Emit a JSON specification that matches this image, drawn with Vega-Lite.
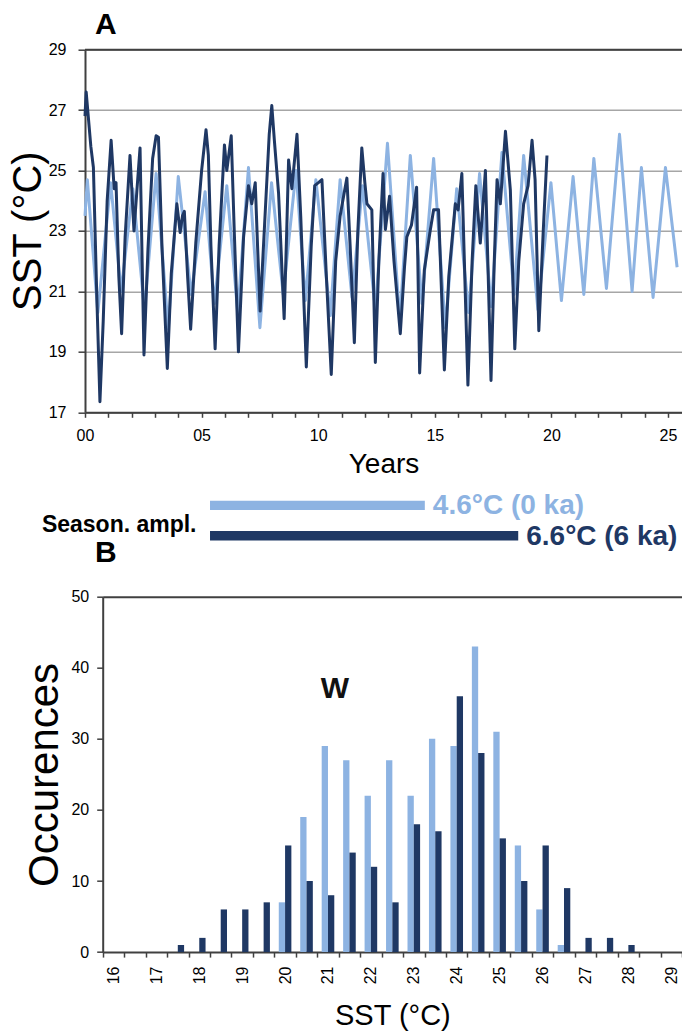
{
  "$schema": "https://vega.github.io/schema/vega-lite/v6.json",
  "padding": {"left": 8, "top": 9.7, "right": 0, "bottom": 0},
  "background": "white",
  "bounds": "flush",
  "spacing": 0,
  "config": {
    "view": {"stroke": null},
    "font": "Liberation Sans",
    "axis": {"labelFont": "Liberation Sans", "titleFont": "Liberation Sans", "labelColor": "#000000", "titleColor": "#000000", "titleFontWeight": "normal", "labelOverlap": false},
    "title": {"font": "Liberation Sans", "color": "#000000"},
    "text": {"font": "Liberation Sans"}
  },
  "datasets": {
    "ts": [
      {"series": "0 ka", "year": 0.0, "sst": 23.5}, {"series": "0 ka", "year": 0.1, "sst": 24.7}, {"series": "0 ka", "year": 0.55, "sst": 20.3}, {"series": "0 ka", "year": 1.1, "sst": 24.6}, {"series": "0 ka", "year": 1.55, "sst": 21.0}, {"series": "0 ka", "year": 2.05, "sst": 24.4}, {"series": "0 ka", "year": 2.55, "sst": 20.4}, {"series": "0 ka", "year": 3.05, "sst": 24.9}, {"series": "0 ka", "year": 3.57, "sst": 19.75}, {"series": "0 ka", "year": 4.0, "sst": 24.8}, {"series": "0 ka", "year": 4.55, "sst": 20.9}, {"series": "0 ka", "year": 5.15, "sst": 24.3}, {"series": "0 ka", "year": 5.55, "sst": 20.6}, {"series": "0 ka", "year": 6.08, "sst": 24.5}, {"series": "0 ka", "year": 6.55, "sst": 20.3}, {"series": "0 ka", "year": 7.01, "sst": 25.1}, {"series": "0 ka", "year": 7.5, "sst": 19.8}, {"series": "0 ka", "year": 8.0, "sst": 24.6}, {"series": "0 ka", "year": 8.5, "sst": 20.9}, {"series": "0 ka", "year": 9.05, "sst": 25.0}, {"series": "0 ka", "year": 9.45, "sst": 20.7}, {"series": "0 ka", "year": 9.9, "sst": 24.7}, {"series": "0 ka", "year": 10.52, "sst": 20.2}, {"series": "0 ka", "year": 10.94, "sst": 24.7}, {"series": "0 ka", "year": 11.45, "sst": 20.8}, {"series": "0 ka", "year": 11.9, "sst": 24.5}, {"series": "0 ka", "year": 12.45, "sst": 20.4}, {"series": "0 ka", "year": 12.97, "sst": 25.9}, {"series": "0 ka", "year": 13.5, "sst": 20.0}, {"series": "0 ka", "year": 13.95, "sst": 25.5}, {"series": "0 ka", "year": 14.45, "sst": 20.6}, {"series": "0 ka", "year": 14.95, "sst": 25.4}, {"series": "0 ka", "year": 15.45, "sst": 19.8}, {"series": "0 ka", "year": 15.94, "sst": 24.4}, {"series": "0 ka", "year": 16.45, "sst": 20.3}, {"series": "0 ka", "year": 16.92, "sst": 24.9}, {"series": "0 ka", "year": 17.42, "sst": 20.5}, {"series": "0 ka", "year": 17.88, "sst": 25.6}, {"series": "0 ka", "year": 18.4, "sst": 20.9}, {"series": "0 ka", "year": 18.81, "sst": 25.5}, {"series": "0 ka", "year": 19.42, "sst": 20.4}, {"series": "0 ka", "year": 19.98, "sst": 24.6}, {"series": "0 ka", "year": 20.43, "sst": 20.7}, {"series": "0 ka", "year": 20.93, "sst": 24.8}, {"series": "0 ka", "year": 21.39, "sst": 20.9}, {"series": "0 ka", "year": 21.82, "sst": 25.4}, {"series": "0 ka", "year": 22.36, "sst": 21.1}, {"series": "0 ka", "year": 22.92, "sst": 26.2}, {"series": "0 ka", "year": 23.46, "sst": 21.0}, {"series": "0 ka", "year": 23.86, "sst": 25.1}, {"series": "0 ka", "year": 24.36, "sst": 20.8}, {"series": "0 ka", "year": 24.89, "sst": 25.1}, {"series": "0 ka", "year": 25.39, "sst": 21.8},
      {"series": "6 ka", "year": 0.0, "sst": 26.8}, {"series": "6 ka", "year": 0.05, "sst": 27.6}, {"series": "6 ka", "year": 0.15, "sst": 26.7}, {"series": "6 ka", "year": 0.25, "sst": 25.8}, {"series": "6 ka", "year": 0.36, "sst": 25.1}, {"series": "6 ka", "year": 0.5, "sst": 21.0}, {"series": "6 ka", "year": 0.64, "sst": 17.35}, {"series": "6 ka", "year": 0.78, "sst": 20.0}, {"series": "6 ka", "year": 0.95, "sst": 24.0}, {"series": "6 ka", "year": 1.12, "sst": 26.0}, {"series": "6 ka", "year": 1.25, "sst": 24.4}, {"series": "6 ka", "year": 1.33, "sst": 24.6}, {"series": "6 ka", "year": 1.45, "sst": 21.5}, {"series": "6 ka", "year": 1.57, "sst": 19.6}, {"series": "6 ka", "year": 1.72, "sst": 22.8}, {"series": "6 ka", "year": 1.93, "sst": 25.5}, {"series": "6 ka", "year": 2.1, "sst": 23.0}, {"series": "6 ka", "year": 2.25, "sst": 24.6}, {"series": "6 ka", "year": 2.36, "sst": 25.75}, {"series": "6 ka", "year": 2.45, "sst": 22.0}, {"series": "6 ka", "year": 2.53, "sst": 18.9}, {"series": "6 ka", "year": 2.7, "sst": 22.4}, {"series": "6 ka", "year": 2.9, "sst": 25.4}, {"series": "6 ka", "year": 3.05, "sst": 26.15}, {"series": "6 ka", "year": 3.15, "sst": 26.1}, {"series": "6 ka", "year": 3.3, "sst": 22.5}, {"series": "6 ka", "year": 3.53, "sst": 18.45}, {"series": "6 ka", "year": 3.7, "sst": 21.6}, {"series": "6 ka", "year": 3.94, "sst": 23.9}, {"series": "6 ka", "year": 4.08, "sst": 22.95}, {"series": "6 ka", "year": 4.18, "sst": 23.5}, {"series": "6 ka", "year": 4.26, "sst": 23.65}, {"series": "6 ka", "year": 4.4, "sst": 21.5}, {"series": "6 ka", "year": 4.53, "sst": 19.75}, {"series": "6 ka", "year": 4.75, "sst": 22.6}, {"series": "6 ka", "year": 5.0, "sst": 25.0}, {"series": "6 ka", "year": 5.19, "sst": 26.35}, {"series": "6 ka", "year": 5.29, "sst": 25.5}, {"series": "6 ka", "year": 5.4, "sst": 22.5}, {"series": "6 ka", "year": 5.58, "sst": 19.1}, {"series": "6 ka", "year": 5.75, "sst": 22.5}, {"series": "6 ka", "year": 5.98, "sst": 25.85}, {"series": "6 ka", "year": 6.08, "sst": 25.0}, {"series": "6 ka", "year": 6.27, "sst": 26.15}, {"series": "6 ka", "year": 6.4, "sst": 23.0}, {"series": "6 ka", "year": 6.58, "sst": 19.0}, {"series": "6 ka", "year": 6.8, "sst": 22.8}, {"series": "6 ka", "year": 7.01, "sst": 24.5}, {"series": "6 ka", "year": 7.15, "sst": 23.9}, {"series": "6 ka", "year": 7.3, "sst": 24.6}, {"series": "6 ka", "year": 7.4, "sst": 22.5}, {"series": "6 ka", "year": 7.51, "sst": 20.35}, {"series": "6 ka", "year": 7.7, "sst": 23.2}, {"series": "6 ka", "year": 7.9, "sst": 26.2}, {"series": "6 ka", "year": 8.01, "sst": 27.15}, {"series": "6 ka", "year": 8.12, "sst": 26.0}, {"series": "6 ka", "year": 8.3, "sst": 24.25}, {"series": "6 ka", "year": 8.54, "sst": 20.1}, {"series": "6 ka", "year": 8.65, "sst": 23.0}, {"series": "6 ka", "year": 8.73, "sst": 25.35}, {"series": "6 ka", "year": 8.87, "sst": 24.4}, {"series": "6 ka", "year": 9.09, "sst": 26.2}, {"series": "6 ka", "year": 9.25, "sst": 23.5}, {"series": "6 ka", "year": 9.49, "sst": 18.5}, {"series": "6 ka", "year": 9.7, "sst": 22.5}, {"series": "6 ka", "year": 9.85, "sst": 24.5}, {"series": "6 ka", "year": 10.01, "sst": 24.6}, {"series": "6 ka", "year": 10.16, "sst": 24.7}, {"series": "6 ka", "year": 10.35, "sst": 21.5}, {"series": "6 ka", "year": 10.56, "sst": 18.25}, {"series": "6 ka", "year": 10.75, "sst": 22.0}, {"series": "6 ka", "year": 10.94, "sst": 23.5}, {"series": "6 ka", "year": 11.1, "sst": 24.2}, {"series": "6 ka", "year": 11.23, "sst": 24.75}, {"series": "6 ka", "year": 11.37, "sst": 22.5}, {"series": "6 ka", "year": 11.55, "sst": 19.3}, {"series": "6 ka", "year": 11.7, "sst": 23.0}, {"series": "6 ka", "year": 11.87, "sst": 25.75}, {"series": "6 ka", "year": 12.0, "sst": 24.6}, {"series": "6 ka", "year": 12.09, "sst": 23.9}, {"series": "6 ka", "year": 12.3, "sst": 23.7}, {"series": "6 ka", "year": 12.45, "sst": 18.65}, {"series": "6 ka", "year": 12.6, "sst": 22.0}, {"series": "6 ka", "year": 12.78, "sst": 24.9}, {"series": "6 ka", "year": 12.88, "sst": 23.05}, {"series": "6 ka", "year": 13.06, "sst": 24.15}, {"series": "6 ka", "year": 13.25, "sst": 22.0}, {"series": "6 ka", "year": 13.52, "sst": 19.6}, {"series": "6 ka", "year": 13.7, "sst": 21.8}, {"series": "6 ka", "year": 13.8, "sst": 22.8}, {"series": "6 ka", "year": 14.0, "sst": 23.2}, {"series": "6 ka", "year": 14.22, "sst": 24.45}, {"series": "6 ka", "year": 14.35, "sst": 18.3}, {"series": "6 ka", "year": 14.55, "sst": 21.7}, {"series": "6 ka", "year": 14.8, "sst": 23.0}, {"series": "6 ka", "year": 14.95, "sst": 23.7}, {"series": "6 ka", "year": 15.16, "sst": 23.7}, {"series": "6 ka", "year": 15.41, "sst": 18.4}, {"series": "6 ka", "year": 15.6, "sst": 21.5}, {"series": "6 ka", "year": 15.88, "sst": 23.9}, {"series": "6 ka", "year": 16.0, "sst": 23.7}, {"series": "6 ka", "year": 16.16, "sst": 24.9}, {"series": "6 ka", "year": 16.42, "sst": 17.9}, {"series": "6 ka", "year": 16.6, "sst": 22.0}, {"series": "6 ka", "year": 16.76, "sst": 24.5}, {"series": "6 ka", "year": 16.95, "sst": 22.6}, {"series": "6 ka", "year": 17.17, "sst": 25.0}, {"series": "6 ka", "year": 17.41, "sst": 18.05}, {"series": "6 ka", "year": 17.55, "sst": 22.0}, {"series": "6 ka", "year": 17.67, "sst": 24.7}, {"series": "6 ka", "year": 17.81, "sst": 23.9}, {"series": "6 ka", "year": 18.03, "sst": 26.3}, {"series": "6 ka", "year": 18.24, "sst": 24.35}, {"series": "6 ka", "year": 18.43, "sst": 19.1}, {"series": "6 ka", "year": 18.6, "sst": 22.0}, {"series": "6 ka", "year": 18.81, "sst": 23.9}, {"series": "6 ka", "year": 19.0, "sst": 24.5}, {"series": "6 ka", "year": 19.17, "sst": 26.0}, {"series": "6 ka", "year": 19.3, "sst": 24.7}, {"series": "6 ka", "year": 19.46, "sst": 19.7}, {"series": "6 ka", "year": 19.65, "sst": 23.0}, {"series": "6 ka", "year": 19.81, "sst": 25.5}
    ],
    "hist": [
      {"sst": 16.0, "age": "0 ka", "count": 0}, {"sst": 16.5, "age": "0 ka", "count": 0}, {"sst": 17.0, "age": "0 ka", "count": 0}, {"sst": 17.5, "age": "0 ka", "count": 0}, {"sst": 18.0, "age": "0 ka", "count": 0}, {"sst": 18.5, "age": "0 ka", "count": 0}, {"sst": 19.0, "age": "0 ka", "count": 0}, {"sst": 19.5, "age": "0 ka", "count": 0}, {"sst": 20.0, "age": "0 ka", "count": 7}, {"sst": 20.5, "age": "0 ka", "count": 19}, {"sst": 21.0, "age": "0 ka", "count": 29}, {"sst": 21.5, "age": "0 ka", "count": 27}, {"sst": 22.0, "age": "0 ka", "count": 22}, {"sst": 22.5, "age": "0 ka", "count": 27}, {"sst": 23.0, "age": "0 ka", "count": 22}, {"sst": 23.5, "age": "0 ka", "count": 30}, {"sst": 24.0, "age": "0 ka", "count": 29}, {"sst": 24.5, "age": "0 ka", "count": 43}, {"sst": 25.0, "age": "0 ka", "count": 31}, {"sst": 25.5, "age": "0 ka", "count": 15}, {"sst": 26.0, "age": "0 ka", "count": 6}, {"sst": 26.5, "age": "0 ka", "count": 1}, {"sst": 27.0, "age": "0 ka", "count": 0}, {"sst": 27.5, "age": "0 ka", "count": 0}, {"sst": 28.0, "age": "0 ka", "count": 0}, {"sst": 28.5, "age": "0 ka", "count": 0}, {"sst": 29.0, "age": "0 ka", "count": 0},
      {"sst": 16.0, "age": "6 ka", "count": 0}, {"sst": 16.5, "age": "6 ka", "count": 0}, {"sst": 17.0, "age": "6 ka", "count": 0}, {"sst": 17.5, "age": "6 ka", "count": 1}, {"sst": 18.0, "age": "6 ka", "count": 2}, {"sst": 18.5, "age": "6 ka", "count": 6}, {"sst": 19.0, "age": "6 ka", "count": 6}, {"sst": 19.5, "age": "6 ka", "count": 7}, {"sst": 20.0, "age": "6 ka", "count": 15}, {"sst": 20.5, "age": "6 ka", "count": 10}, {"sst": 21.0, "age": "6 ka", "count": 8}, {"sst": 21.5, "age": "6 ka", "count": 14}, {"sst": 22.0, "age": "6 ka", "count": 12}, {"sst": 22.5, "age": "6 ka", "count": 7}, {"sst": 23.0, "age": "6 ka", "count": 18}, {"sst": 23.5, "age": "6 ka", "count": 17}, {"sst": 24.0, "age": "6 ka", "count": 36}, {"sst": 24.5, "age": "6 ka", "count": 28}, {"sst": 25.0, "age": "6 ka", "count": 16}, {"sst": 25.5, "age": "6 ka", "count": 10}, {"sst": 26.0, "age": "6 ka", "count": 15}, {"sst": 26.5, "age": "6 ka", "count": 9}, {"sst": 27.0, "age": "6 ka", "count": 2}, {"sst": 27.5, "age": "6 ka", "count": 2}, {"sst": 28.0, "age": "6 ka", "count": 1}, {"sst": 28.5, "age": "6 ka", "count": 0}, {"sst": 29.0, "age": "6 ka", "count": 0}
    ],
    "amp": [
      {"age": "0 ka", "amp": 4.6, "label": "4.6°C (0 ka)"},
      {"age": "6 ka", "amp": 6.6, "label": "6.6°C (6 ka)"}
    ]
  },
  "vconcat": [
    {
      "width": 597,
      "height": 362.6,
      "title": {"text": "A", "anchor": "start", "frame": "group", "dx": 10, "offset": 2, "fontSize": 30, "fontWeight": "bold"},
      "data": {"name": "ts"},
      "layer": [
        {"transform": [{"filter": "datum.series === '0 ka'"}],
         "mark": {"type": "line", "color": "#8DB3E2", "strokeWidth": 3, "strokeJoin": "round"},
         "encoding": {
           "x": {"field": "year", "type": "quantitative", "scale": {"domain": [0, 25.6], "nice": false, "zero": false},
             "axis": {"title": "Years", "values": [0,1,2,3,4,5,6,7,8,9,10,11,12,13,14,15,16,17,18,19,20,21,22,23,24,25], "labelExpr": "datum.value % 5 === 0 ? format(datum.value, '02d') : ''", "grid": false, "tickSize": 5, "tickWidth": 1.5, "tickColor": "#404040", "domainColor": "#404040", "domainWidth": 2, "labelFontSize": 16, "labelPadding": 10, "labelFlush": false, "labelOverlap": false, "titleFontSize": 28, "titlePadding": 7}},
           "y": {"field": "sst", "type": "quantitative", "scale": {"domain": [17, 29], "nice": false, "zero": false},
             "axis": {"title": "SST (°C)", "values": [17,19,21,23,25,27,29], "grid": true, "gridColor": "#A6A6A6", "gridWidth": 1.5,
               "tickSize": 7, "tickWidth": 1.5, "tickColor": "#404040", "domainColor": "#404040", "domainWidth": 2, "labelFontSize": 16, "labelPadding": 12, "labelOverlap": false,
               "titleFontSize": 40, "titleX": -45, "titleY": 181, "titleBaseline": "alphabetic", "titleAlign": "center", "titleAngle": 270}}
         }},
        {"transform": [{"filter": "datum.series === '6 ka'"}],
         "mark": {"type": "line", "color": "#1F3864", "strokeWidth": 3, "strokeJoin": "round"},
         "encoding": {
           "x": {"field": "year", "type": "quantitative",
             "axis": {"title": "Years", "values": [0,1,2,3,4,5,6,7,8,9,10,11,12,13,14,15,16,17,18,19,20,21,22,23,24,25], "labelExpr": "datum.value % 5 === 0 ? format(datum.value, '02d') : ''", "grid": false, "tickSize": 5, "tickWidth": 1.5, "tickColor": "#404040", "domainColor": "#404040", "domainWidth": 2, "labelFontSize": 16, "labelPadding": 10, "labelFlush": false, "labelOverlap": false, "titleFontSize": 28, "titlePadding": 7}},
           "y": {"field": "sst", "type": "quantitative"}
         }},
        {"data": {"values": [{}]},
         "mark": {"type": "rule", "color": "#404040", "strokeWidth": 2},
         "encoding": {"y": {"datum": 29, "type": "quantitative"}}}
      ]
    },
    {
      "width": 597,
      "height": 184,
      "data": {"name": "amp"},
      "encoding": {
        "y": {"field": "age", "type": "nominal", "scale": {"domain": ["0 ka", "6 ka"], "range": [87.95, 127.9], "paddingInner": 0.689, "paddingOuter": 0},
          "axis": {"title": "Season. ampl.", "labels": false, "ticks": false, "domain": false, "grid": false, "titleAngle": 0, "titleAlign": "right", "titleBaseline": "middle", "titleX": 111, "titleY": 111.7, "titleFontSize": 23, "titleFontWeight": "bold"}},
        "x": {"field": "amp", "type": "quantitative", "scale": {"domain": [-2.677, 10.107], "nice": false, "zero": false}, "axis": null},
        "color": {"field": "age", "type": "nominal", "scale": {"domain": ["0 ka", "6 ka"], "range": ["#8DB3E2", "#1F3864"]}, "legend": null}
      },
      "layer": [
        {"mark": {"type": "bar", "orient": "horizontal"}},
        {"mark": {"type": "text", "align": "left", "baseline": "middle", "dx": 8, "dy": 1, "fontSize": 28, "fontWeight": "bold"},
         "encoding": {"text": {"field": "label"}}}
      ]
    },
    {
      "width": 597,
      "height": 355.4,
      "title": {"text": "B", "anchor": "start", "frame": "group", "dx": 10, "offset": 21, "fontSize": 30, "fontWeight": "bold"},
      "resolve": {"axis": {"x": "independent"}},
      "layer": [
        {"data": {"name": "hist"},
         "mark": {"type": "bar"},
         "encoding": {
           "x": {"field": "sst", "type": "ordinal",
             "scale": {"domain": [16,16.5,17,17.5,18,18.5,19,19.5,20,20.5,21,21.5,22,22.5,23,23.5,24,24.5,25,25.5,26,26.5,27,27.5,28,28.5,29], "range": [17.7, 597], "paddingInner": 0, "paddingOuter": 0},
             "axis": {"title": "SST (°C)", "tickBand": "extent", "labelExpr": "datum.value % 1 === 0 ? '' + datum.value : ''", "labelAngle": 270, "labelOverlap": false,
               "domainColor": "#404040", "domainWidth": 2, "grid": false, "tickSize": 5, "tickWidth": 1.5, "tickColor": "#404040", "labelFontSize": 16, "labelPadding": 9, "titleFontSize": 29, "titlePadding": 18}},
           "xOffset": {"field": "age", "type": "nominal", "scale": {"domain": ["0 ka", "6 ka"], "paddingInner": 0, "paddingOuter": 0.703}},
           "y": {"field": "count", "type": "quantitative", "scale": {"domain": [0, 50], "nice": false, "zero": true},
             "axis": {"title": "Occurences", "values": [0,5,10,15,20,25,30,35,40,45,50], "grid": false, "offset": -17.7, "tickSize": 6, "tickWidth": 1.5, "tickColor": "#404040", "domainColor": "#404040", "domainWidth": 2, "labelFontSize": 16, "labelPadding": 8,
               "titleFontSize": 42, "titleX": -45.7, "titleY": 177.7, "titleBaseline": "alphabetic", "titleAlign": "center", "titleAngle": 270}},
           "color": {"field": "age", "type": "nominal", "scale": {"domain": ["0 ka", "6 ka"], "range": ["#8DB3E2", "#1F3864"]}, "legend": null}
         }},
        {"data": {"values": [{"label": "W"}]},
         "mark": {"type": "text", "align": "center", "baseline": "middle", "dx": 7, "fontSize": 30, "fontWeight": "bold", "color": "#111111"},
         "encoding": {
           "x": {"datum": 21, "type": "ordinal", "axis": {"orient": "top", "labels": false, "ticks": false, "title": null, "grid": false, "domainColor": "#404040", "domainWidth": 2}},
           "y": {"datum": 37, "type": "quantitative"},
           "text": {"field": "label"}
         }}
      ]
    }
  ]
}
